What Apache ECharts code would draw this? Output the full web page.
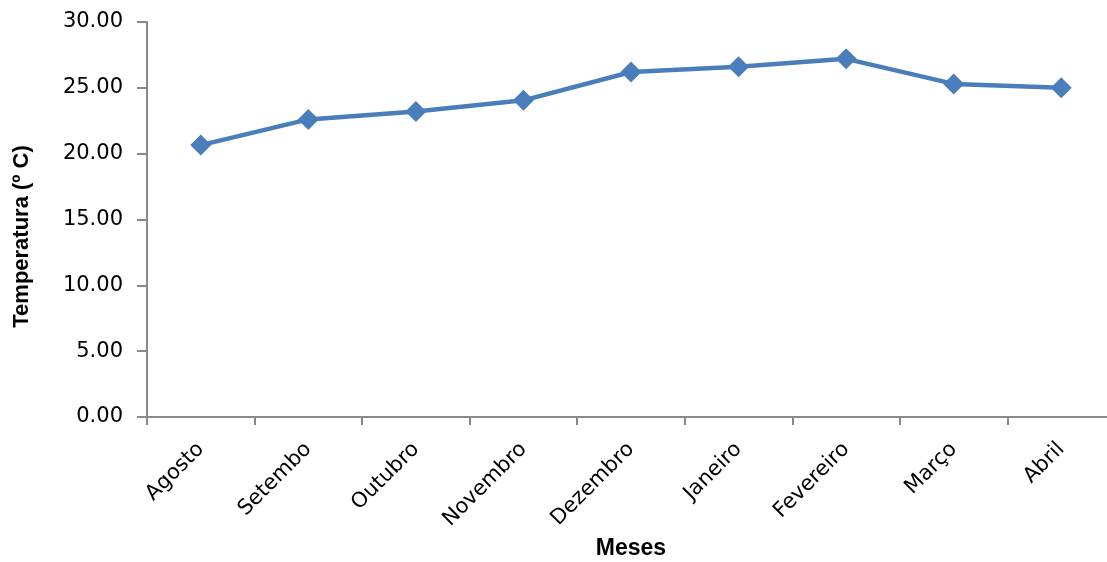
<!DOCTYPE html>
<html>
<head>
<meta charset="utf-8">
<title>Temperatura mensal</title>
<script src="https://cdn.jsdelivr.net/npm/echarts@6/dist/echarts.min.js"></script>
<style>
  html, body { margin: 0; padding: 0; background: #ffffff; }
  #chart { width: 1107px; height: 562px; }
</style>
</head>
<body>
<div id="chart"></div>
<script>
// Monthly mean temperature, August to April
const months = ['Agosto', 'Setembo', 'Outubro', 'Novembro', 'Dezembro', 'Janeiro', 'Fevereiro', 'Março', 'Abril'];
const temperatures = [20.65, 22.6, 23.2, 24.05, 26.2, 26.6, 27.2, 25.3, 25.0];
const yTicks = { min: 0, max: 30, step: 5 };

const axisGray = '#898989';
const lineBlue = '#4a7ebb';
const tickFont = '"DejaVu Sans", "Open Sans", sans-serif';
const titleFont = '"Liberation Sans", Arial, sans-serif';

const chart = echarts.init(document.getElementById('chart'), null, { renderer: 'canvas' });

chart.setOption({
  animation: false,
  backgroundColor: '#ffffff',
  grid: {
    left: 147, top: 22, bottom: 145, right: -8,
    containLabel: false,
    outerBoundsMode: 'none'
  },
  xAxis: {
    type: 'category',
    data: months,
    boundaryGap: true,
    name: 'Meses',
    nameLocation: 'middle',
    nameGap: 120,
    nameTextStyle: { fontFamily: titleFont, fontWeight: 'bold', fontSize: 23, color: '#000' },
    axisLine: { lineStyle: { color: axisGray, width: 2 } },
    axisTick: { show: true, inside: false, length: 8, alignWithLabel: false, lineStyle: { color: axisGray, width: 2 } },
    axisLabel: { rotate: 45, margin: 29, fontFamily: tickFont, fontSize: 21, color: '#000', interval: 0 },
    splitLine: { show: false }
  },
  yAxis: {
    type: 'value',
    min: yTicks.min,
    max: yTicks.max,
    interval: yTicks.step,
    name: 'Temperatura (º C)',
    nameLocation: 'middle',
    nameGap: 114,
    nameRotate: 90,
    nameTextStyle: { fontFamily: titleFont, fontWeight: 'bold', fontSize: 22, color: '#000', padding: [0, 34, 0, 0] },
    axisLine: { show: true, lineStyle: { color: axisGray, width: 2 } },
    axisTick: { show: true, inside: false, length: 10, lineStyle: { color: axisGray, width: 2 } },
    axisLabel: {
      margin: 24,
      fontFamily: tickFont,
      fontSize: 21,
      color: '#000',
      formatter: v => v.toFixed(2)
    },
    splitLine: { show: false }
  },
  series: [{
    type: 'line',
    data: temperatures,
    symbol: 'diamond',
    symbolSize: 21,
    lineStyle: { color: lineBlue, width: 4.5 },
    itemStyle: { color: lineBlue },
    emphasis: { disabled: true }
  }]
});
</script>
</body>
</html>
